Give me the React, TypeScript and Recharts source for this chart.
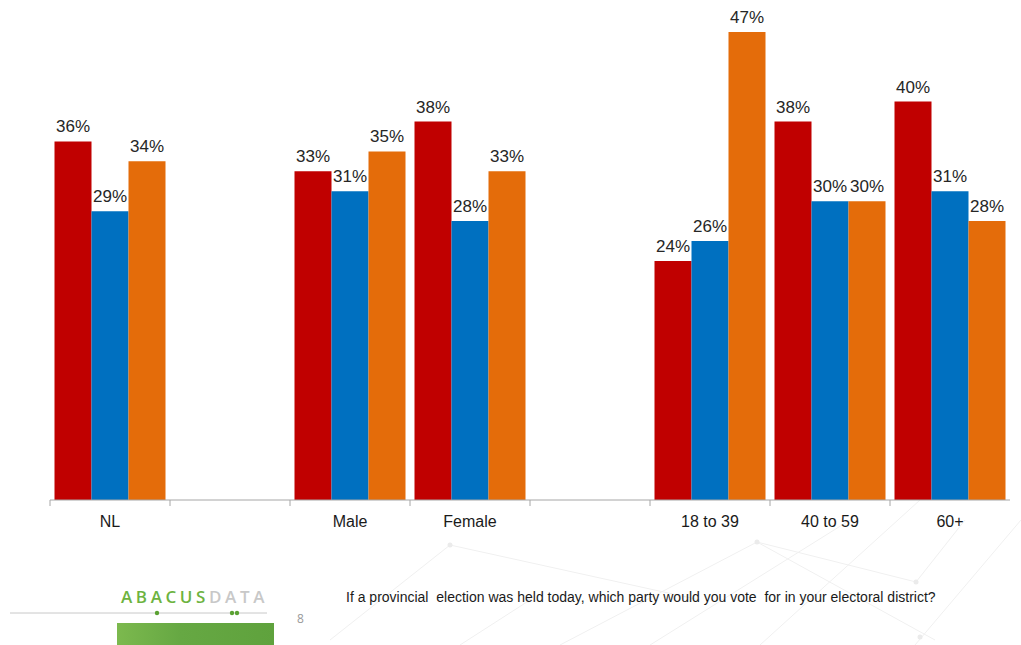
import { Bar, BarChart, LabelList, XAxis, YAxis } from "recharts";

const categories = ["NL", "", "Male", "Female", " ", "18 to 39", "40 to 59", "60+"];
const redValues = [36, null, 33, 38, null, 24, 38, 40];
const blueValues = [29, null, 31, 28, null, 26, 30, 31];
const orangeValues = [34, null, 35, 33, null, 47, 30, 28];

const data = categories.map((name, i) => ({
  name,
  red: redValues[i],
  blue: blueValues[i],
  orange: orangeValues[i],
}));

const fmt = (v: unknown) => (v == null ? "" : `${v}%`);

function Tick(props: any) {
  const { x, y, payload, width } = props;
  const band = width / categories.length;
  const left = x - band / 2;
  return (
    <g>
      <line x1={left} y1={y - 8} x2={left} y2={y - 2} stroke="#a6a6a6" strokeWidth={1} />
      <text x={x} y={y + 19} textAnchor="middle" fill="#1a1a1a" fontSize={16} fontFamily="Liberation Sans, Arial, sans-serif">
        {payload.value}
      </text>
    </g>
  );
}

const labelStyle = { fill: "#262626", fontSize: 17, fontFamily: "Liberation Sans, Arial, sans-serif" };

export default function App() {
  return (
    <div style={{ position: "absolute", left: 0, top: 0, width: 1021, height: 645, background: "#fff", overflow: "hidden" }}>
      {/* faint background network */}
      <svg width={1021} height={645} style={{ position: "absolute", left: 0, top: 0 }}>
        <g stroke="#f0f0f0" strokeWidth={1} fill="none">
          <line x1={450} y1={545} x2={700} y2={600} />
          <line x1={450} y1={545} x2={330} y2={640} />
          <line x1={757} y1={542} x2={560} y2={645} />
          <line x1={757} y1={542} x2={916} y2={582} />
          <line x1={916} y1={582} x2={965} y2={520} />
          <line x1={757} y1={542} x2={935} y2={640} />
          <line x1={1021} y1={520} x2={915} y2={645} />
          <line x1={850} y1={520} x2={650} y2={645} />
          <line x1={920} y1={500} x2={760} y2={645} />
          <line x1={530} y1={600} x2={460} y2={645} />
        </g>
        <g fill="#ebebeb">
          <circle cx={450} cy={545} r={2.5} />
          <circle cx={757} cy={542} r={2.5} />
          <circle cx={916} cy={582} r={2.5} />
          <circle cx={528} cy={600} r={2.5} />
          <circle cx={920} cy={637} r={2.5} />
        </g>
      </svg>
      <div style={{ position: "absolute", left: 0, top: 0 }}>
        <BarChart width={1021} height={532} data={data} margin={{ top: 2, right: 11, left: 50, bottom: 0 }} barCategoryGap="3.75%" barGap={0}>
          <YAxis hide domain={[0, 50]} />
          <XAxis dataKey="name" height={32} interval={0} axisLine={{ stroke: "#a6a6a6" }} tickLine={false} tick={<Tick />} />
          <Bar dataKey="red" fill="#c00000" isAnimationActive={false}>
            <LabelList dataKey="red" position="top" offset={9} formatter={fmt} style={labelStyle} />
          </Bar>
          <Bar dataKey="blue" fill="#0070c0" isAnimationActive={false}>
            <LabelList dataKey="blue" position="top" offset={9} formatter={fmt} style={labelStyle} />
          </Bar>
          <Bar dataKey="orange" fill="#e46c0a" isAnimationActive={false}>
            <LabelList dataKey="orange" position="top" offset={9} formatter={fmt} style={labelStyle} />
          </Bar>
        </BarChart>
      </div>
      {/* footer */}
      <div style={{ position: "absolute", left: 121, top: 587, fontFamily: "Open Sans, sans-serif", fontSize: 17, fontWeight: 600, letterSpacing: 3.6, lineHeight: "19px" }}>
        <span style={{ color: "#6db33f" }}>ABACUS</span>
        <span style={{ color: "#c8c8c8" }}>DATA</span>
      </div>
      <svg width={300} height={40} style={{ position: "absolute", left: 0, top: 605 }}>
        <line x1={10} y1={8} x2={267} y2={8} stroke="#c8c8c8" strokeWidth={1} />
        <circle cx={157} cy={8} r={2.2} fill="#5aa132" />
        <circle cx={232} cy={8} r={2.2} fill="#5aa132" />
        <circle cx={237} cy={8} r={2.2} fill="#5aa132" />
        <defs>
          <linearGradient id="gb" x1="0" x2="1" y1="0" y2="0">
            <stop offset="0" stopColor="#7cb94e" />
            <stop offset="0.4" stopColor="#66a843" />
            <stop offset="1" stopColor="#5fa23d" />
          </linearGradient>
        </defs>
        <rect x={117} y={18} width={157} height={22} fill="url(#gb)" />
      </svg>
      <div style={{ position: "absolute", left: 297, top: 610, fontFamily: "Open Sans, sans-serif", fontSize: 12, color: "#9a9a9a" }}>8</div>
      <div style={{ position: "absolute", left: 346, top: 589, fontFamily: "Liberation Sans, Arial, sans-serif", fontSize: 14, color: "#1a1a1a", whiteSpace: "pre" }}>
        If a provincial  election was held today, which party would you vote  for in your electoral district?
      </div>
    </div>
  );
}
